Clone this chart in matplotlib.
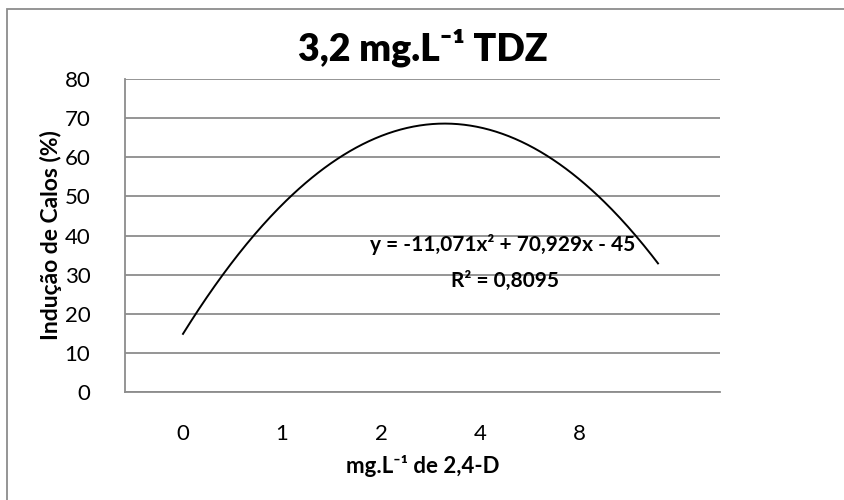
import numpy as np
import matplotlib
matplotlib.use("Agg")
import matplotlib.pyplot as plt
from matplotlib.patches import Rectangle

# ---- data ----
categories = ["0", "1", "2", "4", "8"]
# polynomial trendline coefficients shown in the chart: y = a x^2 + b x + c
coef_a = -11.071
coef_b = 70.929
coef_c = -45.0
trend_x_start = 1
trend_x_end = 5
equation_text = "y = -11,071x² + 70,929x - 45"
r2_text = "R² = 0,8095"
y_ticks = [0, 10, 20, 30, 40, 50, 60, 70, 80]

plt.rcParams['font.family'] = ['Lato', 'DejaVu Sans']

W, H = 845, 500
fig = plt.figure(figsize=(W/100, H/100), dpi=100)
# axes: left 125, right 720, top 79, bottom 392 (pixels)
ax = fig.add_axes([125/W, 1-392/H, (720-125)/W, (392-79)/H])

grid_col = "#8c8c8c"
# curve
xs = np.linspace(trend_x_start, trend_x_end, 300)
ys = coef_a*xs**2 + coef_b*xs + coef_c
ax.plot(xs, ys, color="black", lw=1.4, zorder=3)

ax.set_xlim(0.5116, 5.522)
ax.set_ylim(0, 80)
ax.set_yticks(y_ticks)
ax.set_xticks([])
ax.yaxis.grid(True, color=grid_col, lw=1.3)
ax.set_axisbelow(True)
ax.tick_params(axis='y', length=0, pad=25, labelsize=16)
for s in ['top', 'right']:
    ax.spines[s].set_visible(False)
ax.spines['left'].set_color(grid_col)
ax.spines['bottom'].set_color(grid_col)
ax.spines['left'].set_linewidth(1.3)
ax.spines['bottom'].set_linewidth(1.3)

ax.set_ylabel("Indução de Calos (%)", fontsize=16.5, fontweight='bold', labelpad=2)

# category axis labels
ax2 = ax.twiny()
ax2.set_xlim(-0.586, 5.42)
ax2.set_xticks(range(len(categories)))
ax2.set_xticklabels(categories)
ax2.xaxis.set_ticks_position('bottom')
ax2.xaxis.set_label_position('bottom')
ax2.tick_params(axis='x', length=0, pad=23, labelsize=16)
for s in ax2.spines.values():
    s.set_visible(False)
ax2.set_xlabel("mg.L⁻¹ de 2,4-D", fontsize=16, fontweight='bold', labelpad=8)

ax.set_title("3,2 mg.L⁻¹ TDZ", fontsize=27, fontweight='heavy', pad=13)

ax.text(3.695, 37.6, equation_text, ha='center', va='center', fontsize=15, fontweight='bold', zorder=4)
ax.text(3.71, 28.4, r2_text, ha='center', va='center', fontsize=15, fontweight='bold', zorder=4)

# outer chart frame
fig.patches.append(Rectangle((7/W, -0.1), 1.2, 1.1 - 9/H, transform=fig.transFigure,
                             fill=False, edgecolor=grid_col, lw=1.3))

fig.savefig("out.png", dpi=100)
